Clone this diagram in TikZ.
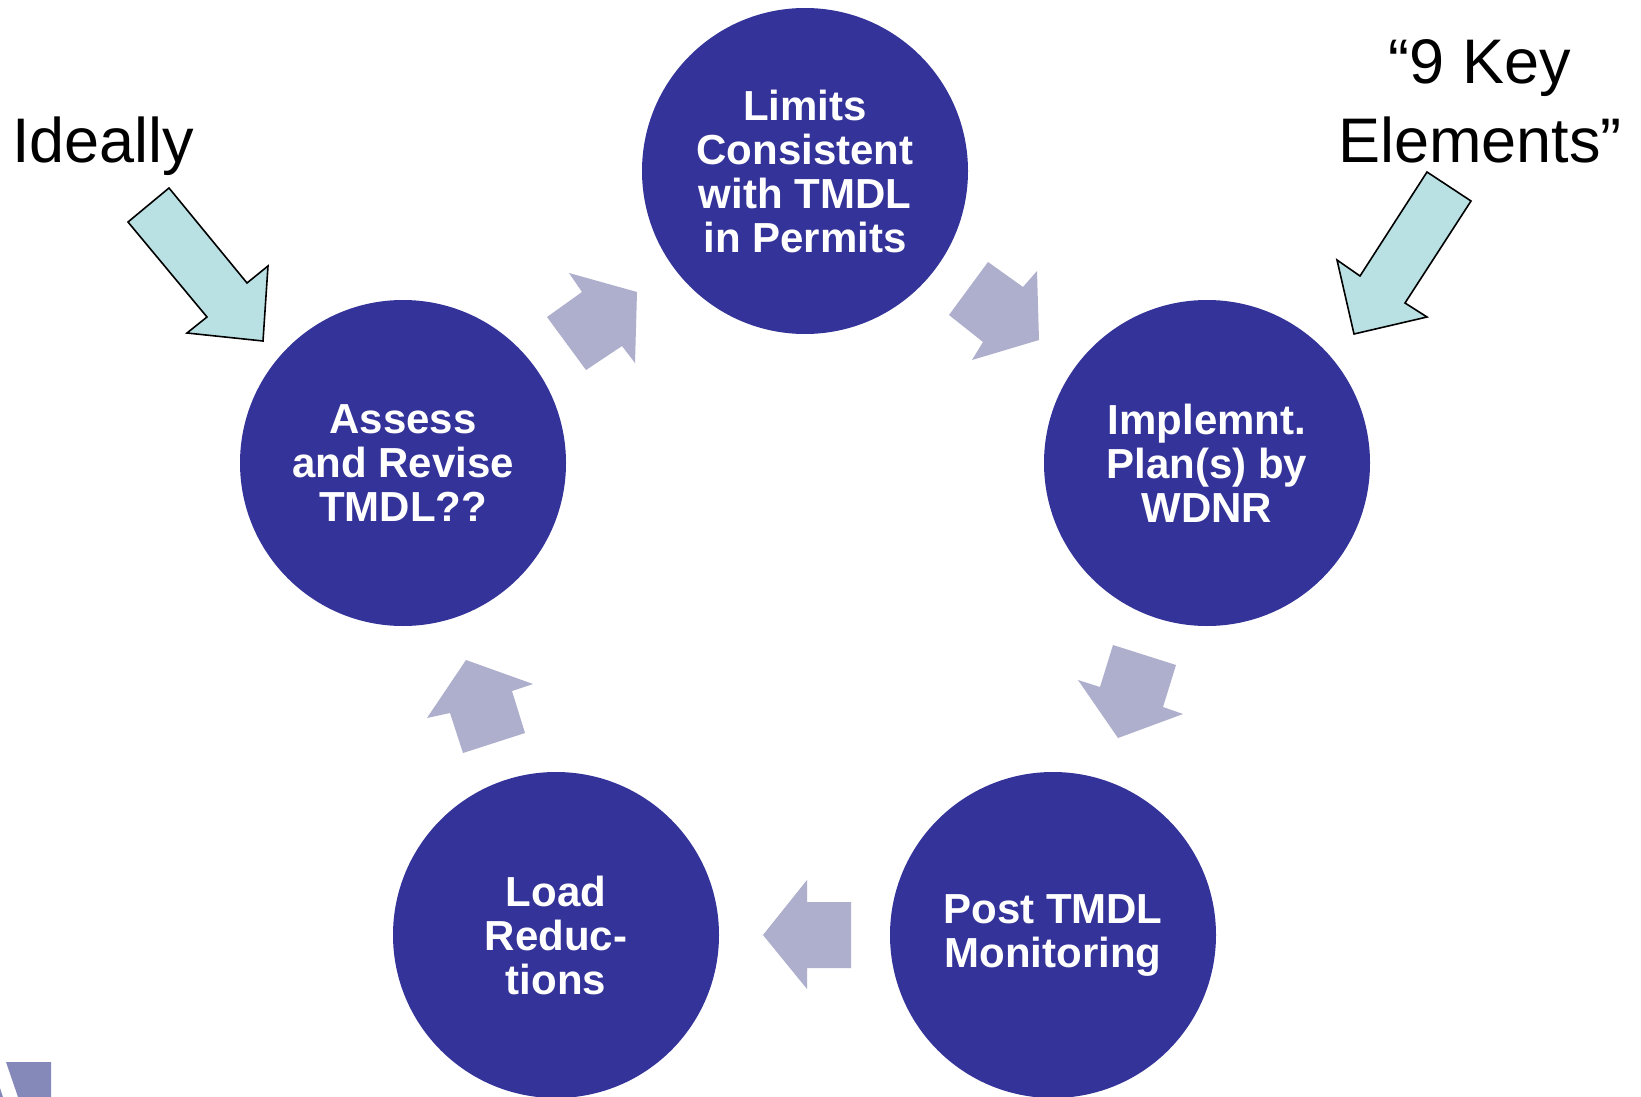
\documentclass[tikz,border=0pt]{standalone}
\usepackage{fontspec}
\setmainfont{Liberation Sans}
\definecolor{circblue}{RGB}{52,51,153}
\definecolor{arrgrey}{RGB}{174,174,205}
\definecolor{arrcyan}{RGB}{185,225,228}
\definecolor{cornerblue}{RGB}{133,137,185}
\tikzset{
  circ/.style={circle, fill=circblue, draw=none, minimum size=326pt, inner sep=0pt,
    text=white, align=center, font=\fontsize{42}{44}\selectfont\bfseries},
  greyarrow/.style={fill=arrgrey, draw=none},
  cyanarrow/.style={fill=arrcyan, draw=black, line width=1.6pt, line join=miter},
  bigtext/.style={font=\fontsize{63}{78.5}\selectfont, text=black, inner sep=0pt, align=center}
}
\begin{document}
\begin{tikzpicture}[x=1pt,y=-1pt]
\useasboundingbox (0,0) rectangle (1641,1097);
\fill[white] (0,0) rectangle (1641,1097);
% circles
\node[circ] (limits) at (805,171) {Limits\\Consistent\\with TMDL\\in Permits};
\node[circ] (assess) at (403,463) {Assess\\and Revise\\TMDL??};
\node[circ] (impl) at (1207,463) {Implemnt.\\Plan(s) by\\WDNR};
\node[circ] (load) at (556,935) {Load\\Reduc-\\tions};
\node[circ] (post) at (1053,935) {Post TMDL\\Monitoring};
% grey cycle arrows
\fill[greyarrow] (569,273) -- (637,292) -- (635,363) -- (622,346) -- (586,370) -- (547,317) -- (582,292) -- cycle;
\fill[greyarrow] (988,262) -- (1023,287) -- (1037,271) -- (1039,340) -- (972,360) -- (983,342) -- (949,315) -- cycle;
\fill[greyarrow] (1113,645) -- (1176,665) -- (1163,707) -- (1183,714) -- (1118,738) -- (1078,680) -- (1100,687) -- cycle;
\fill[greyarrow] (807,880) -- (807,902) -- (851,902) -- (851,968) -- (807,968) -- (807,989) -- (763,935) -- cycle;
\fill[greyarrow] (466,660) -- (533,684) -- (512,691) -- (525,733) -- (463,753) -- (450,713) -- (427,718) -- cycle;
% cyan arrows
\draw[cyanarrow] (169,188) -- (247,283) -- (268,266) -- (263,341) -- (187,333) -- (207,317) -- (128,222) -- cycle;
\draw[cyanarrow] (1427,172) -- (1471,201) -- (1405,303) -- (1427,317) -- (1354,334) -- (1337,260) -- (1360,276) -- cycle;
% labels
\node[bigtext, anchor=base west] (ideally) at (12,162) {Ideally};
\node[bigtext, anchor=base] (keyel) at (1480,162) {“9 Key\\Elements”};
% corner fragment
\fill[cornerblue] (6,1062) -- (51,1062) -- (51,1097) -- (18,1097) -- cycle;
\fill[cornerblue] (0,1088) -- (3,1097) -- (0,1097) -- cycle;
\end{tikzpicture}
\end{document}
